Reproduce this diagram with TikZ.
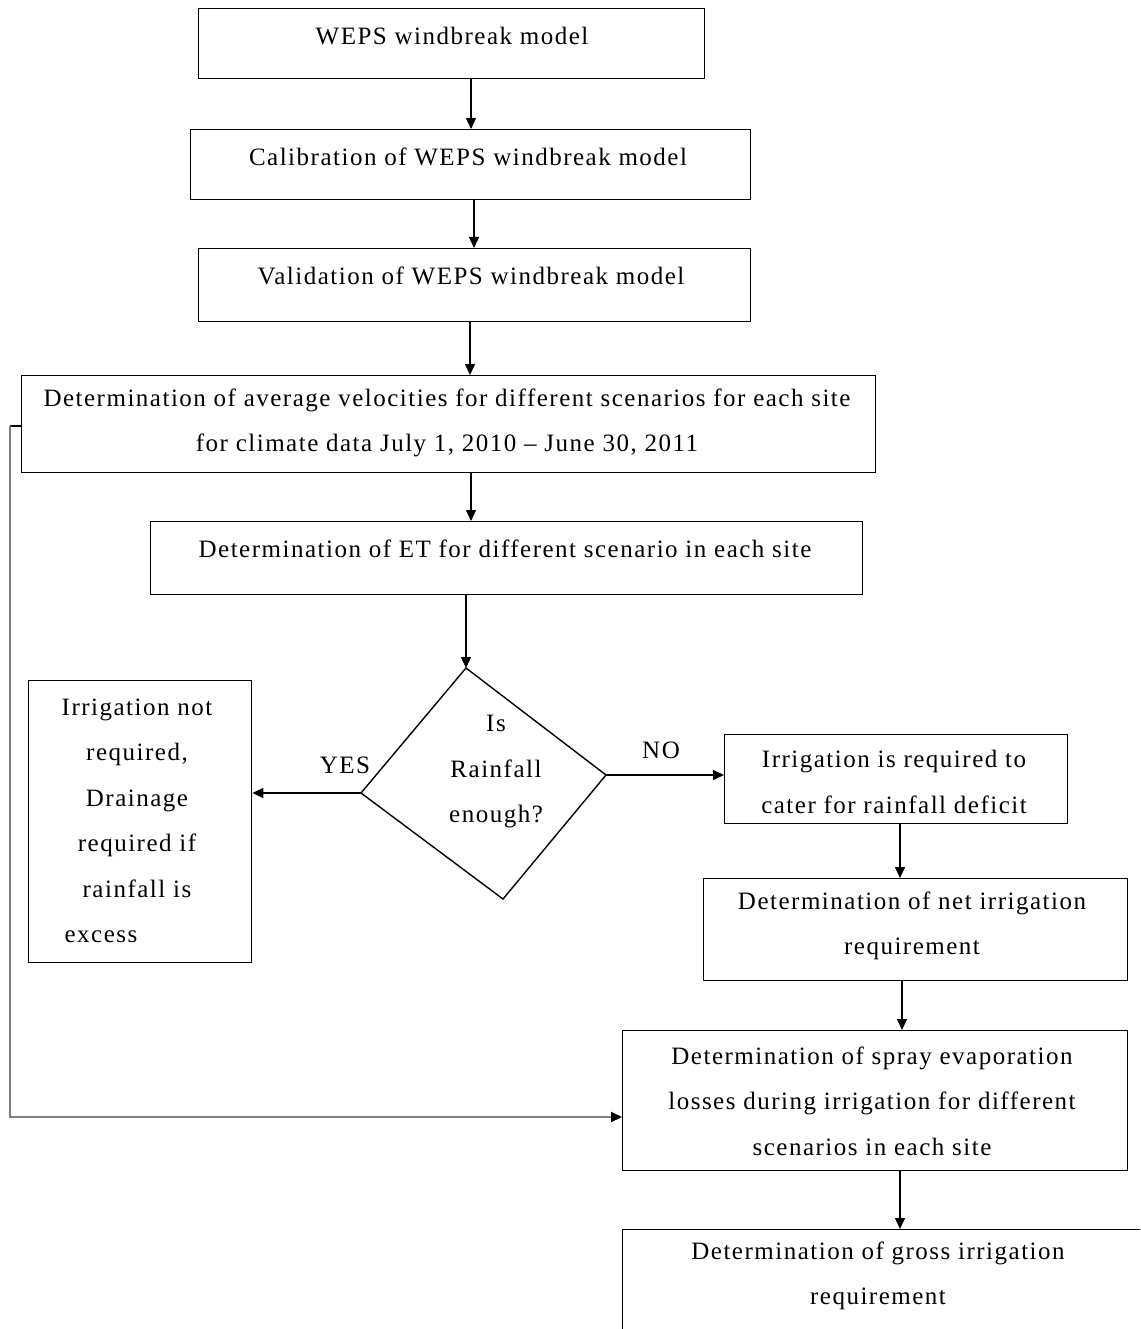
\documentclass[tikz,border=0pt]{standalone}
\usepackage{fontspec}
\setmainfont{Liberation Serif}
\newfontfamily\diafont[LetterSpace=6]{Liberation Serif}
\usetikzlibrary{arrows.meta,calc}
\tikzset{
  box/.style={draw=black, line width=1.4pt, rectangle, inner sep=0pt, anchor=north west},
  txt/.style={font=\diafont\fontsize{25}{45.5}\selectfont, align=center, inner sep=0pt, text=black},
  arr/.style={draw=black, line width=1.4pt, -{Triangle[length=11pt,width=10pt]}},
  loopline/.style={draw=gray, line width=2pt, -{Triangle[length=11pt,width=10pt,black]}},
  lbl/.style={font=\diafont\fontsize{25}{26}\selectfont, inner sep=0pt}
}
\begin{document}
\begin{tikzpicture}[x=1pt,y=-1pt]
\useasboundingbox (0,0) rectangle (1140,1329);
\fill[white] (0,0) rectangle (1140,1329);
\begin{scope}
\clip (0,0) rectangle (1140,1329);
% boxes
\node[box, minimum width=506pt, minimum height=70pt] (b1) at (198,8) {};
\node[box, minimum width=560pt, minimum height=70pt] (b2) at (190,129) {};
\node[box, minimum width=552pt, minimum height=73pt] (b3) at (198,248) {};
\node[box, minimum width=854pt, minimum height=97pt] (b4) at (21,375) {};
\node[box, minimum width=712pt, minimum height=73pt] (b5) at (150,521) {};
\node[box, minimum width=223pt, minimum height=282pt] (b7) at (28,680) {};
\node[box, minimum width=343pt, minimum height=89pt] (b8) at (724,734) {};
\node[box, minimum width=424pt, minimum height=102pt] (b9) at (703,878) {};
\node[box, minimum width=505pt, minimum height=140pt] (b10) at (622,1030) {};
\node[box, minimum width=540pt, minimum height=140pt] (b11) at (622,1229) {};
% diamond
\coordinate (dt) at (466,668);
\coordinate (dl) at (361,793);
\coordinate (dr) at (606,775);
\coordinate (db) at (503,899);
\draw[line width=1.4pt, line join=miter] (dt) -- (dr) -- (db) -- (dl) -- cycle;
% texts
\node[txt] (t1) at (452,36) {WEPS windbreak model};
\node[txt] (t2) at (468,157) {Calibration of WEPS windbreak model};
\node[txt] (t3) at (471,276) {Validation of WEPS windbreak model};
\node[txt] (t4) at (447,423) {Determination of average velocities for different scenarios for each site\\for climate data July 1, 2010 – June 30, 2011};
\node[txt] (t5) at (505,549) {Determination of ET for different scenario in each site};
\node[txt] (td) at (496,772) {Is\\Rainfall\\enough?};
\node[txt] (t7) at (137,821) {Irrigation not\\required,\\Drainage\\required if\\rainfall is\\\mbox{excess\hspace{72pt}}};
\node[txt] (t8) at (894,782) {Irrigation is required to\\cater for rainfall deficit};
\node[txt] (t9) at (912,926) {Determination of net irrigation\\requirement};
\node[txt] (t10) at (872,1101) {Determination of spray evaporation\\losses during irrigation for different\\scenarios in each site};
\node[txt] (t11) at (878,1276) {Determination of gross irrigation\\requirement};
% arrows
\draw[arr] (471,0 |- b1.south) -- (471,0 |- b2.north);
\draw[arr] (474,0 |- b2.south) -- (474,0 |- b3.north);
\draw[arr] (470,0 |- b3.south) -- (470,0 |- b4.north);
\draw[arr] (471,0 |- b4.south) -- (471,0 |- b5.north);
\draw[arr] (dt |- b5.south) -- (dt);
\draw[arr] (dl) -- (dl -| b7.east);
\draw[arr] (dr) -- (dr -| b8.west);
\draw[arr] (900,0 |- b8.south) -- (900,0 |- b9.north);
\draw[arr] (902,0 |- b9.south) -- (902,0 |- b10.north);
\draw[arr] (900,0 |- b10.south) -- (900,0 |- b11.north);
\draw[line width=1.4pt] (b4.west |- 0,426) -- (10,426);
\draw[loopline] (10,426) -- (10,1117) -- (b10.west |- 0,1117);
% labels
\node[lbl] (yes) at (345,765) {YES};
\node[lbl] (no) at (661,750) {NO};
\end{scope}
\end{tikzpicture}
\end{document}
